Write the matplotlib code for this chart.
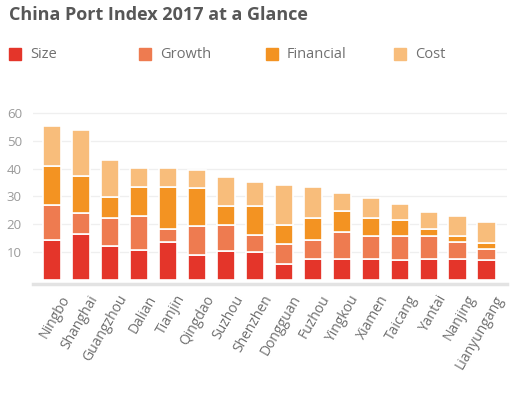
import numpy as np
import matplotlib.pyplot as plt
from matplotlib.patches import Rectangle
from matplotlib.transforms import ScaledTranslation

ports = ["Ningbo", "Shanghai", "Guangzhou", "Dalian", "Tianjin", "Qingdao",
         "Suzhou", "Shenzhen", "Dongguan", "Fuzhou", "Yingkou", "Xiamen",
         "Taicang", "Yantai", "Nanjing", "Lianyungang"]
size = [14.3, 16.4, 12.2, 10.7, 13.8, 8.9, 10.3, 10.0,
        5.7, 7.6, 7.6, 7.6, 7.3, 7.6, 7.6, 7.2]
growth = [12.5, 7.5, 10.1, 12.4, 4.6, 10.5, 9.6, 6.1,
          7.3, 6.9, 9.6, 8.1, 8.4, 8.1, 6.2, 3.9]
financial = [14.0, 13.4, 7.5, 10.4, 15.1, 13.5, 6.8, 10.6,
             6.9, 7.8, 7.5, 6.7, 5.9, 2.5, 2.0, 2.2]
cost = [14.5, 16.5, 13.1, 6.8, 6.8, 6.7, 10.3, 8.6,
        14.3, 11.0, 6.5, 7.0, 5.8, 6.3, 7.1, 7.5]
yticks = [10, 20, 30, 40, 50, 60]

series = [("Size", size, "#e4352a"), ("Growth", growth, "#ee7b50"),
          ("Financial", financial, "#f39322"), ("Cost", cost, "#f8bd7b")]

fig = plt.figure(figsize=(5.2, 3.99), dpi=100)
ax = fig.add_axes([0.0635, 0.288, 0.9115, 0.431])

x = np.arange(len(ports))
bottom = np.zeros(len(ports))
for name, vals, col in series:
    ax.bar(x, vals, 0.64, bottom=bottom, color=col, edgecolor="white",
           linewidth=1.2, zorder=3)
    bottom += np.array(vals)

ax.set_xlim(-0.66, 15.7)
ax.set_ylim(-1.4, 60.2)
ax.set_yticks(yticks)
ax.set_yticklabels([str(t) for t in yticks], color="#9a9a9a", fontsize=9.5,
                   family="Open Sans")
ax.tick_params(axis="y", length=0, pad=8)
ax.grid(axis="y", color="#efefef", linewidth=0.9, zorder=0)
for s in ["top", "right", "left"]:
    ax.spines[s].set_visible(False)
ax.spines["bottom"].set_color("#e3e3e3")
ax.spines["bottom"].set_linewidth(2.5)

ax.set_xticks(x)
ax.set_xticklabels(ports, rotation=60, ha="right", rotation_mode="anchor",
                   color="#6e6e6e", fontsize=10, family="Open Sans")
ax.tick_params(axis="x", length=0, pad=6)
shift = ScaledTranslation(0.075, 0, fig.dpi_scale_trans)
for lab in ax.get_xticklabels():
    lab.set_transform(lab.get_transform() + shift)

fig.text(0.017, 0.962, "China Port Index 2017 at a Glance", fontsize=13,
         fontweight="bold", color="#575757", family="Open Sans", va="center")

# legend
leg_x = [9, 139, 266, 394]
for (name, vals, col), lx in zip(series, leg_x):
    fig.patches.append(Rectangle((lx / 520, 1 - 60 / 399), 12 / 520, 12 / 399,
                                 transform=fig.transFigure, color=col))
    fig.text((lx + 21) / 520, 1 - 54 / 399, name, fontsize=10.5,
             color="#707070", family="Open Sans", va="center")

fig.savefig("out.png", dpi=100)
